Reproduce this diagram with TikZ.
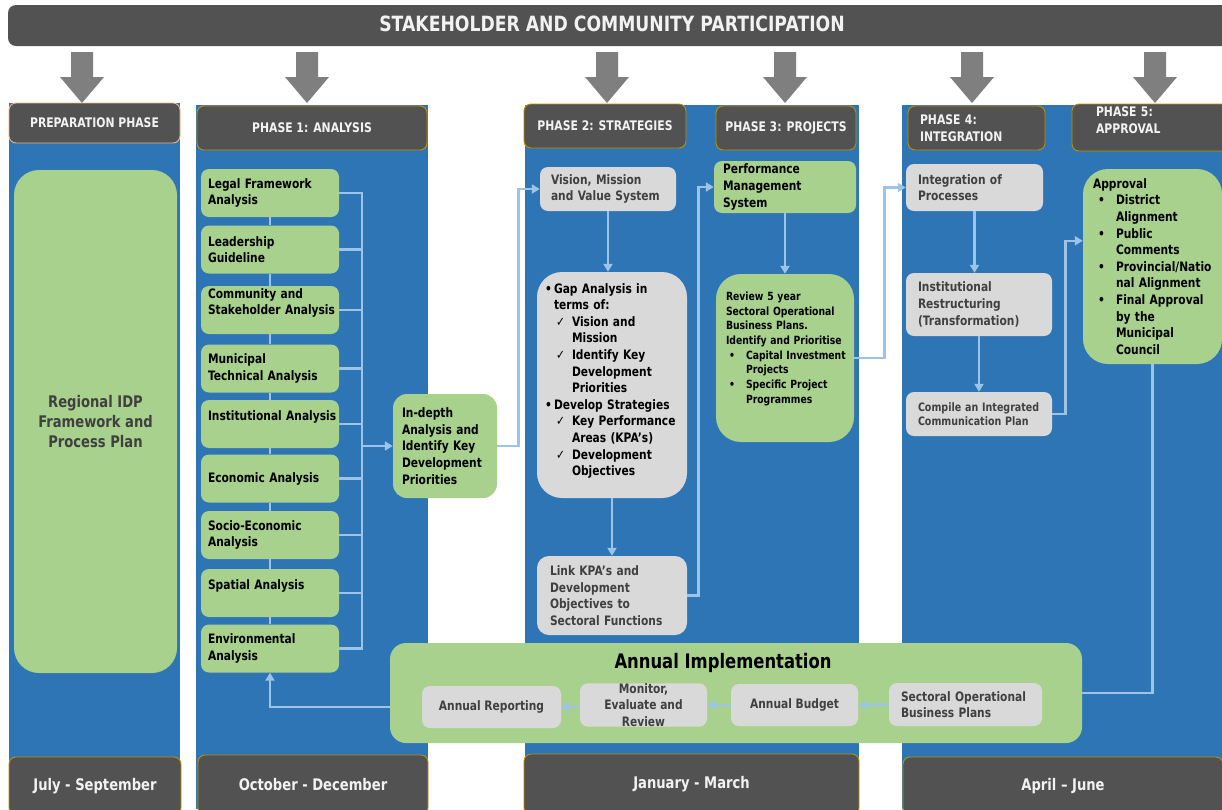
\documentclass[tikz,border=0pt]{standalone}
\usepackage{fontspec}
\setmainfont{DejaVu Sans}[FakeStretch=0.82]
\usetikzlibrary{arrows.meta,calc}
\hyphenpenalty=10000
\exhyphenpenalty=10000

\definecolor{colblue}{HTML}{2E75B6}
\definecolor{hdrgray}{HTML}{525252}
\definecolor{hdrgold}{HTML}{BF9000}
\definecolor{hdrpeach}{HTML}{F4B183}
\definecolor{hdrtext}{HTML}{F2F2F2}
\definecolor{boxgreen}{HTML}{A9D18E}
\definecolor{boxgray}{HTML}{D9D9D9}
\definecolor{txtgray}{HTML}{404040}
\definecolor{linkblue}{HTML}{9DC3E6}
\definecolor{arrowgray}{HTML}{7F7F7F}

\newcommand{\fsz}[2]{\fontsize{#1}{#2}\selectfont}
\newcommand{\bul}[2]{\hspace*{#1pt}\makebox[#2pt][l]{•}}
\newcommand{\gapchk}{\hspace*{11pt}\makebox[16pt][l]{\mdseries ✓}}

\begin{document}
\begin{tikzpicture}[x=1pt, y=-1pt,
  hdr/.style={draw=hdrgold, line width=0.9pt, fill=hdrgray, rounded corners=7, text=hdrtext, font=\bfseries\fsz{13.2}{17}},
  greenbox/.style={fill=boxgreen, rounded corners=8, text=black, font=\bfseries\fsz{13}{16.6}, align=left, inner xsep=7, inner ysep=0},
  greybox/.style={fill=boxgray, rounded corners=8, text=txtgray, font=\bfseries\fsz{13}{16.6}, align=left, inner xsep=7, inner ysep=0},
  flow/.style={draw=linkblue, line width=2.6pt},
  flowarr/.style={flow, -{Triangle[length=8pt,width=9pt]}}]

\useasboundingbox (0,0) rectangle (1222,809);
\clip (0,0) rectangle (1222,809);
\fill[white] (0,0) rectangle (1222,809);

% columns
\fill[colblue] (9,103) rectangle (180,809);
\fill[colblue] (196,105) rectangle (428,809);
\fill[colblue] (525,105) rectangle (859,809);
\fill[colblue] (902,105) rectangle (1222,809);

% participation banner
\fill[hdrgray, rounded corners=8] (8,5) rectangle (1240,46);
\node[text=hdrtext, font=\bfseries\fsz{21}{24}] (banner) at (612,24) {STAKEHOLDER AND COMMUNITY PARTICIPATION};

\foreach \ax in {82,307,607,785,972,1155}
  \fill[arrowgray] (\ax-11,52) -- (\ax+11,52) -- (\ax+11,77) -- (\ax+22,77) -- (\ax,103) -- (\ax-22,77) -- (\ax-11,77) -- cycle;

% phase headers
\node[hdr, draw=hdrpeach, minimum width=171, minimum height=40] (prep) at (94.5,123) {PREPARATION PHASE};
\node[hdr, minimum width=230, minimum height=44] (ph1) at (312,128) {PHASE 1: ANALYSIS};
\node[hdr, minimum width=162, minimum height=44] (ph2) at (605,126) {PHASE 2: STRATEGIES};
\node[hdr, minimum width=140, minimum height=44, inner xsep=2] (ph3) at (786,128) {PHASE 3: PROJECTS};
\node[hdr, minimum width=137, minimum height=44, align=left, text width=113] (ph4) at (976.5,128) {PHASE 4:\\INTEGRATION};
\node[hdr, minimum width=158, minimum height=47, inner ysep=0, align=left, text width=110] (ph5) at (1151,127.5) {PHASE 5:\\APPROVAL\\[-3pt]\mbox{}};

% dates
\node[hdr, font=\bfseries\fsz{16}{20}, minimum width=172, minimum height=58] (jul) at (95,786) {July - September};
\node[hdr, font=\bfseries\fsz{16}{20}, minimum width=230, minimum height=60] (oct) at (313,785) {October - December};
\node[hdr, font=\bfseries\fsz{16}{20}, minimum width=335, minimum height=61] (jan) at (691.5,784.5) {January - March};
\node[hdr, font=\bfseries\fsz{16}{20}, minimum width=320, minimum height=58] (apr) at (1063,786) {April – June};

% preparation
\node[greenbox, align=center, text=txtgray, font=\bfseries\fsz{16}{20}, rounded corners=25, minimum width=163, minimum height=503] (prepplan) at (95.5,421.5) {Regional IDP\\Framework and\\Process Plan};

% phase 1
\node[greenbox, minimum width=138, minimum height=48, text width=124] (legal) at (270,193) {Legal Framework\\Analysis};
\node[greenbox, minimum width=138, minimum height=48, text width=124] (leader) at (270,249.5) {Leadership\\Guideline};
\node[greenbox, minimum width=138, minimum height=48, text width=124] (comm) at (270,310) {Community and\\Stakeholder~Analysis\\\mbox{}};
\node[greenbox, minimum width=138, minimum height=48, text width=124] (muni) at (270,368.5) {Municipal\\Technical Analysis};
\node[greenbox, minimum width=138, minimum height=48, text width=124] (inst) at (270,424) {Institutional~Analysis\\\mbox{}};
\node[greenbox, minimum width=138, minimum height=48, text width=124] (econ) at (270,478.5) {Economic Analysis};
\node[greenbox, minimum width=138, minimum height=48, text width=124] (socio) at (270,535) {Socio-Economic\\Analysis};
\node[greenbox, minimum width=138, minimum height=48, text width=124] (spatial) at (270,593) {Spatial Analysis\\\mbox{}};
\node[greenbox, minimum width=138, minimum height=48, text width=124] (envir) at (270,648.5) {Environmental\\Analysis};

\node[greenbox, rounded corners=14, minimum width=104, minimum height=104, inner xsep=9, text width=86] (indepth) at (445,446) {In-depth\\Analysis and\\Identify Key\\Development\\Priorities};

% phase 2
\node[greybox, minimum width=136, minimum height=44, inner xsep=11, text width=114] (vision) at (608,189) {Vision, Mission\\and Value System};
\node[greybox, text=black, rounded corners=25, minimum width=150, minimum height=226, inner xsep=8, text width=134] (gap) at (612,385)
  {\makebox[9pt][l]{•}Gap Analysis in\\
   \hspace*{9pt}terms of:\\
   \gapchk Vision and\\
   \hspace*{27pt}Mission\\
   \gapchk Identify Key\\
   \hspace*{27pt}Development\\
   \hspace*{27pt}Priorities\\
   \makebox[9pt][l]{•}Develop Strategies\\
   \gapchk Key Performance\\
   \hspace*{27pt}Areas (KPA’s)\\
   \gapchk Development\\
   \hspace*{27pt}Objectives\\[-5.6pt]\mbox{}};
\node[greybox, rounded corners=12, minimum width=150, minimum height=79, inner xsep=13, text width=124] (kpalink) at (612,595.5) {Link KPA’s and\\Development\\Objectives to\\Sectoral Functions};

% phase 3
\node[greenbox, minimum width=142, minimum height=52, inner xsep=9, text width=124] (pms) at (785,187) {Performance\\Management\\System};
\node[greenbox, rounded corners=25, font=\bfseries\fsz{11.3}{14.7}, minimum width=138, minimum height=168, inner xsep=10, text width=118] (review) at (785,358)
  {Review 5 year\\Sectoral Operational\\Business Plans.\\Identify~and~Prioritise\\
   \bul{3}{17}Capital~Investment\\\hspace*{20pt}Projects\\
   \bul{3}{17}Specific Project\\\hspace*{20pt}Programmes\\[6pt]\mbox{}};

% phase 4
\node[greybox, minimum width=137, minimum height=47, inner xsep=12, text width=113] (integ) at (974.5,187.5) {Integration of\\Processes};
\node[greybox, minimum width=146, minimum height=63, inner xsep=12, text width=122] (instit) at (979,304.5) {Institutional\\Restructuring\\(Transformation)};
\node[greybox, font=\bfseries\fsz{11.6}{14}, minimum width=146, minimum height=44, inner xsep=12, text width=122] (compile) at (979,414) {Compile an Integrated\\Communication Plan};

% phase 5
\node[greenbox, rounded corners=25, minimum width=139, minimum height=195, inner xsep=10, text width=119] (approval) at (1152.5,266.5)
  {Approval\\
   \bul{5}{18}District\\\hspace*{23pt}Alignment\\
   \bul{5}{18}Public\\\hspace*{23pt}Comments\\
   \bul{5}{18}Provincial/Natio\\\hspace*{23pt}nal Alignment\\
   \bul{5}{18}Final Approval\\\hspace*{23pt}by the\\\hspace*{23pt}Municipal\\\hspace*{23pt}Council};

% annual implementation
\node[fill=boxgreen, rounded corners=16, minimum width=692, minimum height=100] (annual) at (736,693) {};
\node[font=\bfseries\fsz{20}{24}] (annualtitle) at (723,663) {Annual Implementation};
\node[greybox, align=center, minimum width=139, minimum height=42] (reporting) at (491.5,707) {Annual Reporting};
\node[greybox, align=center, minimum width=127, minimum height=42] (monitor) at (643.5,705) {Monitor,\\Evaluate and\\Review};
\node[greybox, align=center, minimum width=127, minimum height=42] (budget) at (794.5,705) {Annual Budget};
\node[greybox, minimum width=153, minimum height=43, inner xsep=12, text width=129] (sectoral) at (965.5,704.5) {Sectoral Operational\\Business Plans};

% connectors
\coordinate (bus) at (362,0);
\foreach \a/\b in {legal/leader,leader/comm,comm/muni,muni/inst,inst/econ,econ/socio,socio/spatial,spatial/envir}
  \draw[flow] (\a) -- (\b);
\draw[flow] (legal.east) -- (legal.east -| bus) -- (envir.east -| bus) -- (envir.east);
\foreach \b in {leader,comm,muni,inst,econ,socio,spatial}
  \draw[flow] (\b.east) -- (\b.east -| bus);
\draw[flowarr] (bus |- indepth.west) -- (indepth.west);

\draw[flowarr] (indepth.east) -- ++(21,0) |- (vision.west);
\draw[flowarr] (vision.south) -- (vision.south |- gap.north);
\draw[flowarr] (gap.south) -- (kpalink.north);
\draw[flowarr] (kpalink.east) -- ++(11,0) |- (pms.west);
\draw[flowarr] (pms.south) -- (pms.south |- review.north);
\draw[flowarr] (review.east) -- ++(30,0) |- (integ.west);
\draw[flowarr] (integ.south) -- (integ.south |- instit.north);
\draw[flowarr] (instit.south) -- (instit.south |- compile.north);
\draw[flowarr] (compile.east) -- ++(13,0) |- ($(approval.north west)+(0,72)$);
\draw[flow] (approval.south) |- (annual.east);

\draw[flowarr] (sectoral.west) -- (budget.east);
\draw[flowarr] (budget.west) -- (monitor.east);
\draw[flowarr] (monitor.west |- reporting.east) -- (reporting.east);
\draw[flowarr] (annual.west |- reporting.west) -| (envir.south);

\end{tikzpicture}
\end{document}
